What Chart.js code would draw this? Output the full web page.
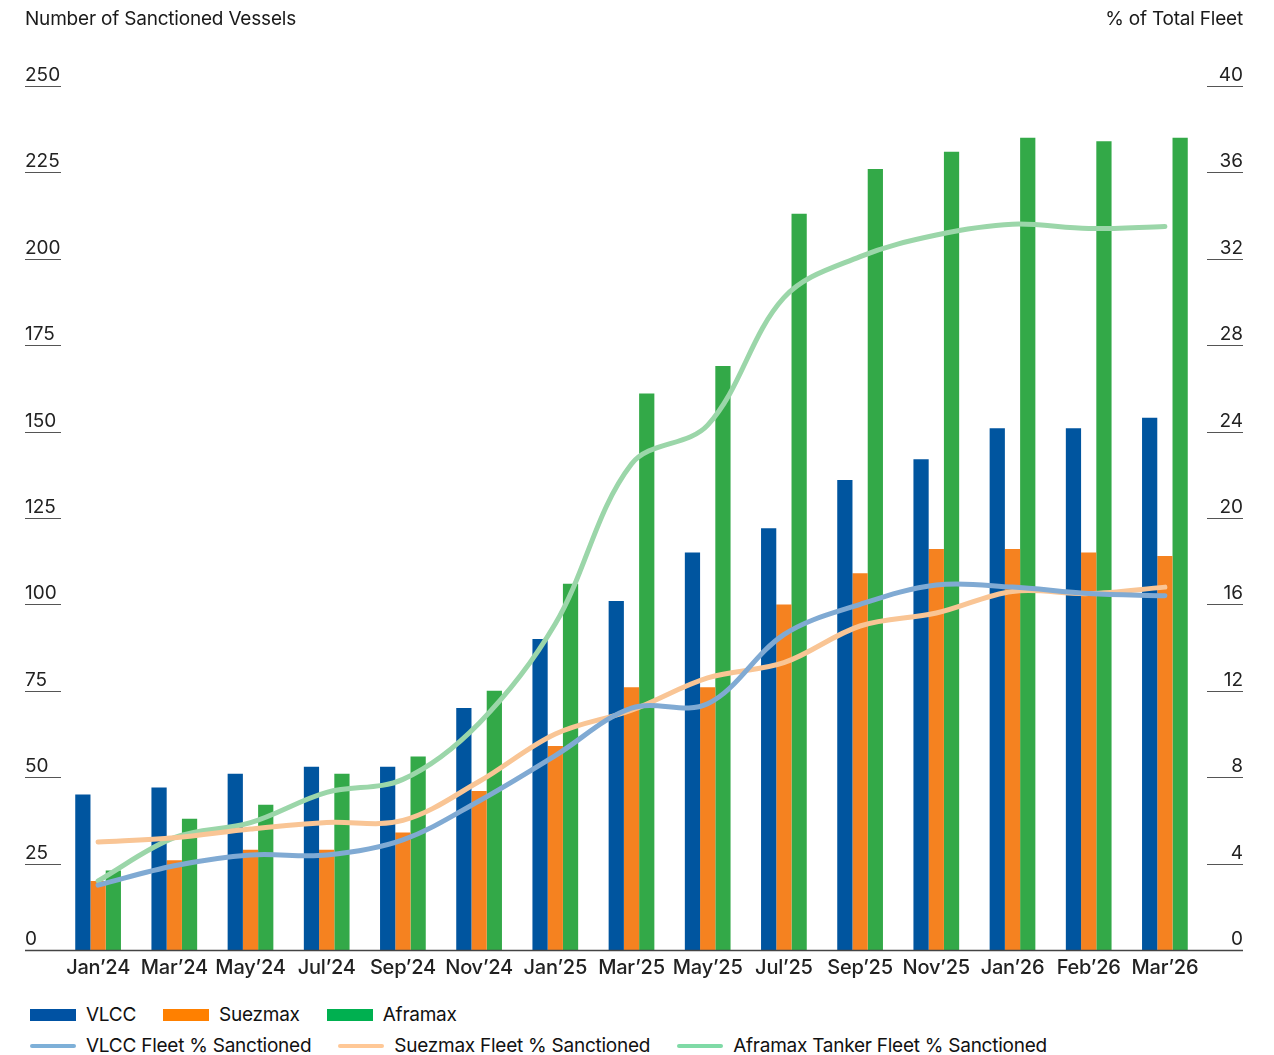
<!DOCTYPE html>
<html>
<head>
<meta charset="utf-8">
<script src="https://cdn.jsdelivr.net/npm/chart.js@4.4.1/dist/chart.umd.min.js"></script>
<style>
  body { margin: 0; background: #fff; font-family: Inter, sans-serif; }
  #wrap { position: relative; width: 1274px; height: 1055px; }
  #legend { position: absolute; left: 30px; top: 999px; font-size: 19px; letter-spacing: -0.25px; color: #111; }
  .row { display: flex; align-items: center; gap: 27px; height: 31px; }
  .item { display: flex; align-items: center; }
  .sw { width: 46px; margin-right: 10px; }
</style>
</head>
<body>
<div id="wrap">
  <canvas id="chart" width="1274" height="990"></canvas>
  <div id="legend"></div>
</div>
<script>
const categories = ['Jan’24', 'Mar’24', 'May’24', 'Jul’24', 'Sep’24', 'Nov’24', 'Jan’25', 'Mar’25',
  'May’25', 'Jul’25', 'Sep’25', 'Nov’25', 'Jan’26', 'Feb’26', 'Mar’26'];

// vessel counts (left axis)
const vlccCount = [45, 47, 51, 53, 53, 70, 90, 101, 115, 122, 136, 142, 151, 151, 154];
const suezmaxCount = [20, 26, 29, 29, 34, 46, 59, 76, 76, 100, 109, 116, 116, 115, 114];
const aframaxCount = [23, 38, 42, 51, 56, 75, 106, 161, 169, 213, 226, 231, 235, 234, 235];

// share of fleet sanctioned, % (right axis)
const vlccPct = [3.0, 3.9, 4.4, 4.4, 5.1, 6.9, 9.0, 11.2, 11.4, 14.6, 16.0, 16.9, 16.8, 16.5, 16.4];
const suezmaxPct = [5.0, 5.2, 5.6, 5.9, 6.0, 7.8, 10.0, 11.1, 12.6, 13.3, 15.0, 15.6, 16.6, 16.5, 16.8];
const aframaxPct = [3.2, 5.2, 5.9, 7.3, 7.9, 10.5, 15.1, 22.5, 24.3, 30.2, 32.1, 33.1, 33.6, 33.4, 33.5];

const leftTicks = [0, 25, 50, 75, 100, 125, 150, 175, 200, 225, 250];
const rightTicks = [0, 4, 8, 12, 16, 20, 24, 28, 32, 36, 40];

const FONT = 'Inter, sans-serif';

function lineSet(label, data, color, legendColor) {
  return {
    type: 'line', label, data, yAxisID: 'y1', order: 0,
    borderColor: color, legendColor, borderWidth: 5, tension: 0.35,
    borderCapStyle: 'round', borderJoinStyle: 'round',
    pointRadius: 0, fill: false
  };
}

function barSet(label, data, color, legendColor) {
  return {
    type: 'bar', label, data, yAxisID: 'y', order: 1,
    backgroundColor: color, legendColor,
    categoryPercentage: 0.6, barPercentage: 1.0
  };
}

// axis titles, short tick underlines, tick labels, baseline and month labels
const axisDecor = {
  id: 'axisDecor',
  afterDraw(chart) {
    const { ctx, scales } = chart;
    const xs = scales.x, yl = scales.y, yr = scales.y1;
    ctx.save();
    ctx.fillStyle = '#1a1a1a';
    ctx.font = '19px ' + FONT;
    ctx.letterSpacing = '-0.2px';
    ctx.textBaseline = 'middle';
    ctx.textAlign = 'left';
    ctx.fillText('Number of Sanctioned Vessels', 25, 19);
    ctx.textAlign = 'right';
    ctx.fillText('% of Total Fleet', 1243, 19);

    ctx.letterSpacing = '0px';
    ctx.textBaseline = 'alphabetic';
    ctx.strokeStyle = '#555';
    ctx.lineWidth = 1;
    leftTicks.forEach(v => {
      const y = Math.round(yl.getPixelForValue(v)) + 0.5;
      ctx.textAlign = 'left';
      ctx.fillStyle = '#222';
      ctx.fillText(String(v), 25, y - 6);
      if (v !== 0) {
        ctx.beginPath(); ctx.moveTo(25, y); ctx.lineTo(61, y); ctx.stroke();
      }
    });
    rightTicks.forEach(v => {
      const y = Math.round(yr.getPixelForValue(v)) + 0.5;
      ctx.textAlign = 'right';
      ctx.fillStyle = '#222';
      ctx.fillText(String(v), 1243, y - 6);
      if (v !== 0) {
        ctx.beginPath(); ctx.moveTo(1207, y); ctx.lineTo(1243, y); ctx.stroke();
      }
    });

    // baseline across the full width
    const y0 = Math.round(yl.getPixelForValue(0)) + 0.5;
    ctx.strokeStyle = '#444';
    ctx.lineWidth = 1.5;
    ctx.beginPath(); ctx.moveTo(25, y0); ctx.lineTo(1243, y0); ctx.stroke();

    ctx.font = '500 20px ' + FONT;
    ctx.letterSpacing = '-0.2px';
    ctx.fillStyle = '#222';
    ctx.textAlign = 'center';
    ctx.textBaseline = 'middle';
    categories.forEach((c, i) => {
      ctx.fillText(c, xs.getPixelForValue(i), y0 + 17);
    });
    ctx.restore();
  }
};

const chart = new Chart(document.getElementById('chart'), {
  data: {
    labels: categories,
    datasets: [
      barSet('VLCC', vlccCount, '#00559f', '#0052a3'),
      barSet('Suezmax', suezmaxCount, '#f58220', '#ff8000'),
      barSet('Aframax', aframaxCount, '#33a948', '#00b050'),
      lineSet('VLCC Fleet % Sanctioned', vlccPct, '#80aad3', '#7eb0d8'),
      lineSet('Suezmax Fleet % Sanctioned', suezmaxPct, '#f9c595', '#ffc896'),
      lineSet('Aframax Tanker Fleet % Sanctioned', aframaxPct, '#9bd6a9', '#7fdaa6')
    ]
  },
  options: {
    responsive: false,
    animation: false,
    layout: { padding: { left: 60, right: 71, top: 86, bottom: 40 } },
    plugins: { legend: { display: false }, tooltip: { enabled: false } },
    scales: {
      x: { display: false, grid: { display: false } },
      y: { display: false, min: leftTicks[0], max: leftTicks[leftTicks.length - 1] },
      y1: { display: false, position: 'right', min: rightTicks[0], max: rightTicks[rightTicks.length - 1] }
    }
  },
  plugins: [axisDecor]
});

// two-row legend: bars first, then lines
const legend = document.getElementById('legend');
[chart.data.datasets.slice(0, 3), chart.data.datasets.slice(3)].forEach(group => {
  const row = document.createElement('div');
  row.className = 'row';
  group.forEach(ds => {
    const item = document.createElement('div');
    item.className = 'item';
    const sw = document.createElement('span');
    sw.className = 'sw';
    sw.style.background = ds.legendColor;
    sw.style.height = ds.type === 'bar' ? '12px' : '4px';
    sw.style.borderRadius = ds.type === 'bar' ? '0' : '2px';
    const txt = document.createElement('span');
    txt.textContent = ds.label;
    item.appendChild(sw);
    item.appendChild(txt);
    row.appendChild(item);
  });
  legend.appendChild(row);
});
</script>
</body>
</html>
